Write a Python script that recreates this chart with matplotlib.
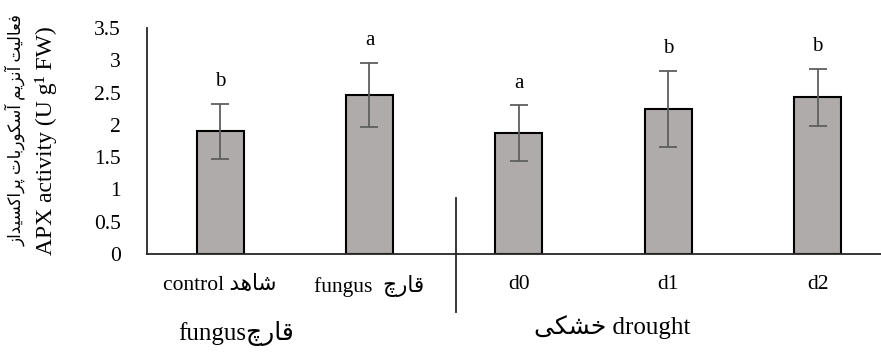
import matplotlib
matplotlib.use("Agg")
import matplotlib.pyplot as plt
from matplotlib.transforms import blended_transform_factory

# ---- data -------------------------------------------------------------
categories = ["control", "fungus", "d0", "d1", "d2"]
means = [1.90, 2.46, 1.87, 2.25, 2.43]
errors = [0.43, 0.50, 0.43, 0.59, 0.44]
letters = ["b", "a", "a", "b", "b"]
yticks = [0, 0.5, 1, 1.5, 2, 2.5, 3, 3.5]
ytick_labels = ["0", "0.5", "1", "1.5", "2", "2.5", "3", "3.5"]

# ---- minimal Persian shaping (presentation forms + right-to-left order) --
FORMS = {
    'ا': ('\uFE8D', '\uFE8E'), 'آ': ('\uFE81', '\uFE82'),
    'د': ('\uFEA9', '\uFEAA'), 'ر': ('\uFEAD', '\uFEAE'),
    'ز': ('\uFEAF', '\uFEB0'), 'و': ('\uFEED', '\uFEEE'),
    'ب': ('\uFE8F', '\uFE90', '\uFE91', '\uFE92'),
    'پ': ('\uFB56', '\uFB57', '\uFB58', '\uFB59'),
    'ت': ('\uFE95', '\uFE96', '\uFE97', '\uFE98'),
    'ج': ('\uFE9D', '\uFE9E', '\uFE9F', '\uFEA0'),
    'چ': ('\uFB7A', '\uFB7B', '\uFB7C', '\uFB7D'),
    'خ': ('\uFEA5', '\uFEA6', '\uFEA7', '\uFEA8'),
    'س': ('\uFEB1', '\uFEB2', '\uFEB3', '\uFEB4'),
    'ش': ('\uFEB5', '\uFEB6', '\uFEB7', '\uFEB8'),
    'ع': ('\uFEC9', '\uFECA', '\uFECB', '\uFECC'),
    'ف': ('\uFED1', '\uFED2', '\uFED3', '\uFED4'),
    'ق': ('\uFED5', '\uFED6', '\uFED7', '\uFED8'),
    'ک': ('\uFB8E', '\uFB8F', '\uFB90', '\uFB91'),
    'ل': ('\uFEDD', '\uFEDE', '\uFEDF', '\uFEE0'),
    'م': ('\uFEE1', '\uFEE2', '\uFEE3', '\uFEE4'),
    'ن': ('\uFEE5', '\uFEE6', '\uFEE7', '\uFEE8'),
    'ه': ('\uFEE9', '\uFEEA', '\uFEEB', '\uFEEC'),
    'ی': ('\uFBFC', '\uFBFD', '\uFBFE', '\uFBFF'),
}


def fa(text):
    out = []
    n = len(text)
    for i, ch in enumerate(text):
        if ch not in FORMS:
            out.append(ch)
            continue
        prev = text[i - 1] if i > 0 else None
        nxt = text[i + 1] if i < n - 1 else None
        join_prev = prev in FORMS and len(FORMS[prev]) == 4
        join_next = len(FORMS[ch]) == 4 and nxt in FORMS
        f = FORMS[ch]
        if join_prev and join_next:
            out.append(f[3])
        elif join_prev:
            out.append(f[1])
        elif join_next:
            out.append(f[2])
        else:
            out.append(f[0])
    return "".join(reversed(out))


FAM = ["Liberation Serif", "DejaVu Sans"]
plt.rcParams["font.family"] = FAM

xtick_labels = [
    "control " + fa("شاهد"),
    "fungus  " + fa("قارچ"),
    "d0", "d1", "d2",
]

# ---- figure -----------------------------------------------------------
fig = plt.figure(figsize=(8.81, 3.52), dpi=100)
ax = fig.add_axes([147 / 881, 98 / 352, 734 / 881, 226 / 352])

x = list(range(len(categories)))
ax.bar(x, means, width=0.315, color="#afabab", edgecolor="black",
       linewidth=1.5, zorder=2)
ax.errorbar(x, means, yerr=errors, fmt="none", ecolor="#5f5f5f",
            elinewidth=1.3, capsize=6.5, capthick=1.3, zorder=3)

for xi, m, e, lab in zip(x, means, errors, letters):
    ax.text(xi, m + e + 0.27, lab, ha="center", va="baseline",
            fontsize=15, family=FAM)

ax.set_xlim(-0.489, 4.424)
ax.set_ylim(0, 3.5)
ax.set_yticks(yticks)
ax.set_yticklabels(ytick_labels, fontsize=15.5)
ax.set_xticks(x)
ax.set_xticklabels(xtick_labels, fontsize=15.5)
ax.tick_params(axis="both", length=0)
ax.tick_params(axis="y", pad=19)
ax.tick_params(axis="x", pad=15)

for s in ["top", "right"]:
    ax.spines[s].set_visible(False)
for s in ["left", "bottom"]:
    ax.spines[s].set_linewidth(1.3)
    ax.spines[s].set_color("#262626")

# group separator between the fungus and drought blocks
trans = blended_transform_factory(ax.transData, ax.transAxes)
ax.plot([1.58, 1.58], [0.248, -0.257], transform=trans, color="#262626",
        linewidth=1.3, clip_on=False)

# group labels
fig.text(236 / 881, 1 - 340 / 352, "fungus" + fa("قارچ"), ha="center",
         va="baseline", fontsize=18, family=FAM)
fig.text(612 / 881, 1 - 334 / 352, fa("خشکی") + " drought", ha="center",
         va="baseline", fontsize=18, family=FAM)

# y-axis titles
fig.text(46 / 881, 1 - 141 / 352, "APX activity (U g\u00b9 FW)", rotation=90,
         ha="center", va="center", fontsize=17, family=FAM)
fig.text(15 / 881, 1 - 130 / 352, fa("فعالیت آنزیم آسکوربات پراکسیداز"),
         rotation=90, ha="center", va="center", fontsize=12, family=FAM)

fig.savefig("out.png", dpi=100)
